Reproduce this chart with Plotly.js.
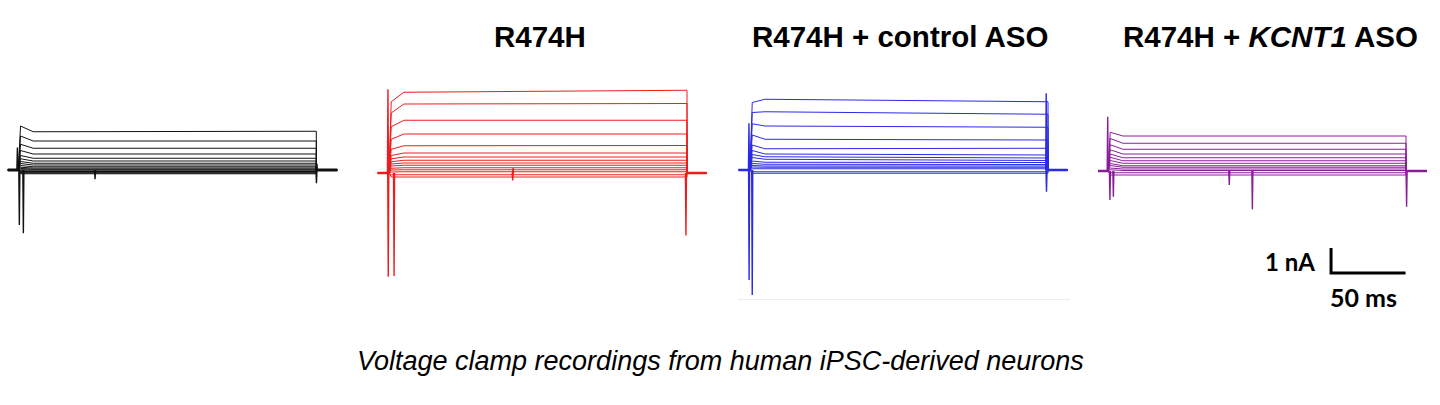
<!DOCTYPE html>
<html>
<head>
<meta charset="utf-8">
<script src="https://cdn.plot.ly/plotly-3.0.1.min.js"></script>
<style>
  html, body { margin: 0; padding: 0; background: #ffffff; }
  #chart { width: 1440px; height: 405px; }
</style>
</head>
<body>
<div id="chart"></div>
<script>
// ---------------- DATA ----------------
// Voltage step protocol (ms)
const stepOn = 0;
const stepOff = 200;
// Time points of the trace shape (ms): early/peak point and point where the steady level is reached
const tEarly = 1.5;
const tLevel = 10;
// Recording window (ms) before and after the step
const tPre = [-7, -7.5, -7.5, -6.7];
const tPost = [214, 213, 213, 214];

const panelTitles = ["", "R474H", "R474H + control ASO", "R474H + <i>KCNT1</i> ASO"];

// Panel 1 (black, WT) – current (nA)
const blackEarly  = [1.76, 1.36, 1.03, 0.78, 0.58, 0.45, 0.34, 0.26, 0.18, 0.11, 0.06, 0.02, -0.03, -0.06, -0.09, -0.12, -0.15];
const blackLevels = [1.53, 1.16, 0.87, 0.64, 0.47, 0.36, 0.27, 0.20, 0.13, 0.08, 0.04, 0.01, -0.03, -0.06, -0.09, -0.12, -0.15];
const blackEnd    = [1.55, 1.16, 0.87, 0.64, 0.47, 0.36, 0.27, 0.20, 0.13, 0.08, 0.04, 0.01, -0.03, -0.06, -0.09, -0.12, -0.15];
const blackSpikeT = [-0.6, 0.7, 3.4, 51.5, 200.1, 200.4];
const blackSpikeA = [0.9, -2.2, -2.53, -0.37, -0.53, 0.25];

// Panel 2 (red, R474H)
const redEarly  = [2.85, 2.40, 1.85, 1.35, 0.95, 0.70, 0.57, 0.45, 0.36, 0.28, 0.19, 0.12, 0.04, -0.07, -0.16];
const redLevels = [3.23, 2.76, 2.11, 1.56, 1.09, 0.80, 0.64, 0.51, 0.40, 0.31, 0.21, 0.13, 0.05, -0.07, -0.16];
const redEnd    = [3.31, 2.78, 2.11, 1.56, 1.10, 0.80, 0.64, 0.51, 0.40, 0.31, 0.21, 0.13, 0.05, -0.07, -0.16];
const redSpikeT = [-0.7, -0.5, 3.4, 83, 83.3, 199.3];
const redSpikeA = [3.35, -4.15, -4.12, -0.3, 0.2, -2.5];

// Panel 3 (blue, R474H + control ASO)
const blueEarly  = [2.70, 2.30, 1.85, 1.40, 1.00, 0.78, 0.62, 0.50, 0.36, 0.26, 0.18, 0.12, 0.05, -0.07, -0.13];
const blueLevels = [2.83, 2.33, 1.76, 1.23, 0.85, 0.64, 0.53, 0.43, 0.31, 0.23, 0.16, 0.11, 0.05, -0.07, -0.13];
const blueEnd    = [2.73, 2.23, 1.71, 1.20, 0.87, 0.60, 0.48, 0.38, 0.30, 0.22, 0.16, 0.11, 0.05, -0.07, -0.13];
const blueSpikeT = [-0.7, -0.6, 1.5, 198.8, 199.0];
const blueSpikeA = [1.87, -4.4, -5.0, 3.07, -0.87];

// Panel 4 (purple, R474H + KCNT1 ASO)
const purpleEarly  = [1.55, 1.30, 1.05, 0.85, 0.68, 0.55, 0.42, 0.30, 0.22, 0.12, 0.05, -0.07, -0.16];
const purpleLevels = [1.40, 1.11, 0.87, 0.68, 0.53, 0.41, 0.31, 0.21, 0.15, 0.08, 0.02, -0.07, -0.16];
const purpleEnd    = [1.40, 1.11, 0.87, 0.68, 0.53, 0.41, 0.31, 0.21, 0.15, 0.08, 0.02, -0.07, -0.16];
const purpleSpikeT = [-0.2, 1.3, 3.6, 81.4, 96.9, 200.4];
const purpleSpikeA = [2.17, -1.16, -1.03, -0.56, -1.53, -1.43];

// Scale bar values
const scaleBarMs = 50;
const scaleBarNa = 1;

// ---------------- LAYOUT (pixels) ----------------
const W = 1440, H = 405;
const PX_PER_MS = 1.49, PX_PER_NA = 25;
const X_RANGE = [-12, 222];
const onsetPx = [18.3, 389, 750, 1108];
const basePx = [170, 173, 170, 171];
const colors = ["#111111", "#f01c1c", "#2a2ae6", "#8a1d98"];
const baseWidths = [3, 2.4, 2.4, 2.4];

const panels = [
  {early: blackEarly, level: blackLevels, end: blackEnd, sT: blackSpikeT, sA: blackSpikeA},
  {early: redEarly, level: redLevels, end: redEnd, sT: redSpikeT, sA: redSpikeA},
  {early: blueEarly, level: blueLevels, end: blueEnd, sT: blueSpikeT, sA: blueSpikeA},
  {early: purpleEarly, level: purpleLevels, end: purpleEnd, sT: purpleSpikeT, sA: purpleSpikeA}
];

const traces = [];
const layout = {
  width: W, height: H,
  margin: {l: 0, r: 0, t: 0, b: 0},
  paper_bgcolor: "#ffffff", plot_bgcolor: "rgba(0,0,0,0)",
  showlegend: false,
  annotations: [],
  shapes: []
};

panels.forEach((p, i) => {
  const sfx = i === 0 ? "" : String(i + 1);
  const xa = "x" + sfx, ya = "y" + sfx;
  const startPx = onsetPx[i] + X_RANGE[0] * PX_PER_MS;
  const endPx = onsetPx[i] + X_RANGE[1] * PX_PER_MS;
  layout["xaxis" + sfx] = {
    domain: [startPx / W, endPx / W], range: X_RANGE, anchor: ya,
    visible: false, fixedrange: true
  };
  layout["yaxis" + sfx] = {
    domain: [0, 1], range: [-(H - basePx[i]) / PX_PER_NA, basePx[i] / PX_PER_NA],
    anchor: xa, visible: false, fixedrange: true
  };
  // step traces
  p.level.forEach((lv, k) => {
    traces.push({
      type: "scatter", mode: "lines", xaxis: xa, yaxis: ya, hoverinfo: "skip",
      x: [tPre[i], stepOn, stepOn + tEarly, stepOn + tLevel, stepOff, stepOff + 0.05, tPost[i]],
      y: [0, 0, p.early[k], lv, p.end[k], 0, 0],
      line: {color: colors[i], width: 1}
    });
  });
  // baseline (thicker, holding current)
  traces.push({
    type: "scatter", mode: "lines", xaxis: xa, yaxis: ya, hoverinfo: "skip",
    x: [tPre[i], stepOn, null, stepOff, tPost[i]], y: [0, 0, null, 0, 0],
    line: {color: colors[i], width: baseWidths[i]}
  });
  // capacitive / artifact spikes
  p.sT.forEach((t, k) => {
    traces.push({
      type: "scatter", mode: "lines", xaxis: xa, yaxis: ya, hoverinfo: "skip",
      x: [t - 0.35, t, t + 0.35], y: [0, p.sA[k], 0],
      line: {color: colors[i], width: 1.4}
    });
  });
  // titles
  if (panelTitles[i]) {
    layout.annotations.push({
      xref: "paper", yref: "paper", x: [540, 900, 1270][i - 1] / W, y: 1 - 36 / H,
      xanchor: "center", yanchor: "middle", showarrow: false,
      text: "<b>" + panelTitles[i] + "</b>",
      font: {family: "Liberation Sans, Arial, sans-serif", size: 29.5, color: "#000000"}
    });
  }
});

// Scale bar on the last panel's axes (nA / ms units)
const sbT0 = 149.7, sbI0 = -4.08;
traces.push({
  type: "scatter", mode: "lines", xaxis: "x4", yaxis: "y4", hoverinfo: "skip",
  x: [sbT0, sbT0, sbT0 + scaleBarMs], y: [sbI0 + scaleBarNa, sbI0, sbI0],
  line: {color: "#000000", width: 3}
});
layout.annotations.push({
  xref: "paper", yref: "paper", x: 1317 / W, y: 1 - 261 / H, xanchor: "right", yanchor: "middle",
  showarrow: false, text: "<b>1 nA</b>",
  font: {family: "Lato, Open Sans, sans-serif", size: 24, color: "#000000"}
});
layout.annotations.push({
  xref: "paper", yref: "paper", x: 1363 / W, y: 1 - 297 / H, xanchor: "center", yanchor: "middle",
  showarrow: false, text: "<b>50 ms</b>",
  font: {family: "Lato, Open Sans, sans-serif", size: 25, color: "#000000"}
});
// Caption
layout.annotations.push({
  xref: "paper", yref: "paper", x: 720 / W, y: 1 - 361 / H, xanchor: "center", yanchor: "middle",
  showarrow: false, text: "<i>Voltage clamp recordings from human iPSC-derived neurons</i>",
  font: {family: "Liberation Sans, Arial, sans-serif", size: 27, color: "#000000"}
});
// faint edge line under blue panel
layout.shapes.push({
  type: "line", xref: "paper", yref: "paper", x0: 738 / W, x1: 1070 / W, y0: 1 - 299.5 / H, y1: 1 - 299.5 / H,
  line: {color: "#ececec", width: 1}
});

Plotly.newPlot("chart", traces, layout, {staticPlot: true, displayModeBar: false});
</script>
</body>
</html>
